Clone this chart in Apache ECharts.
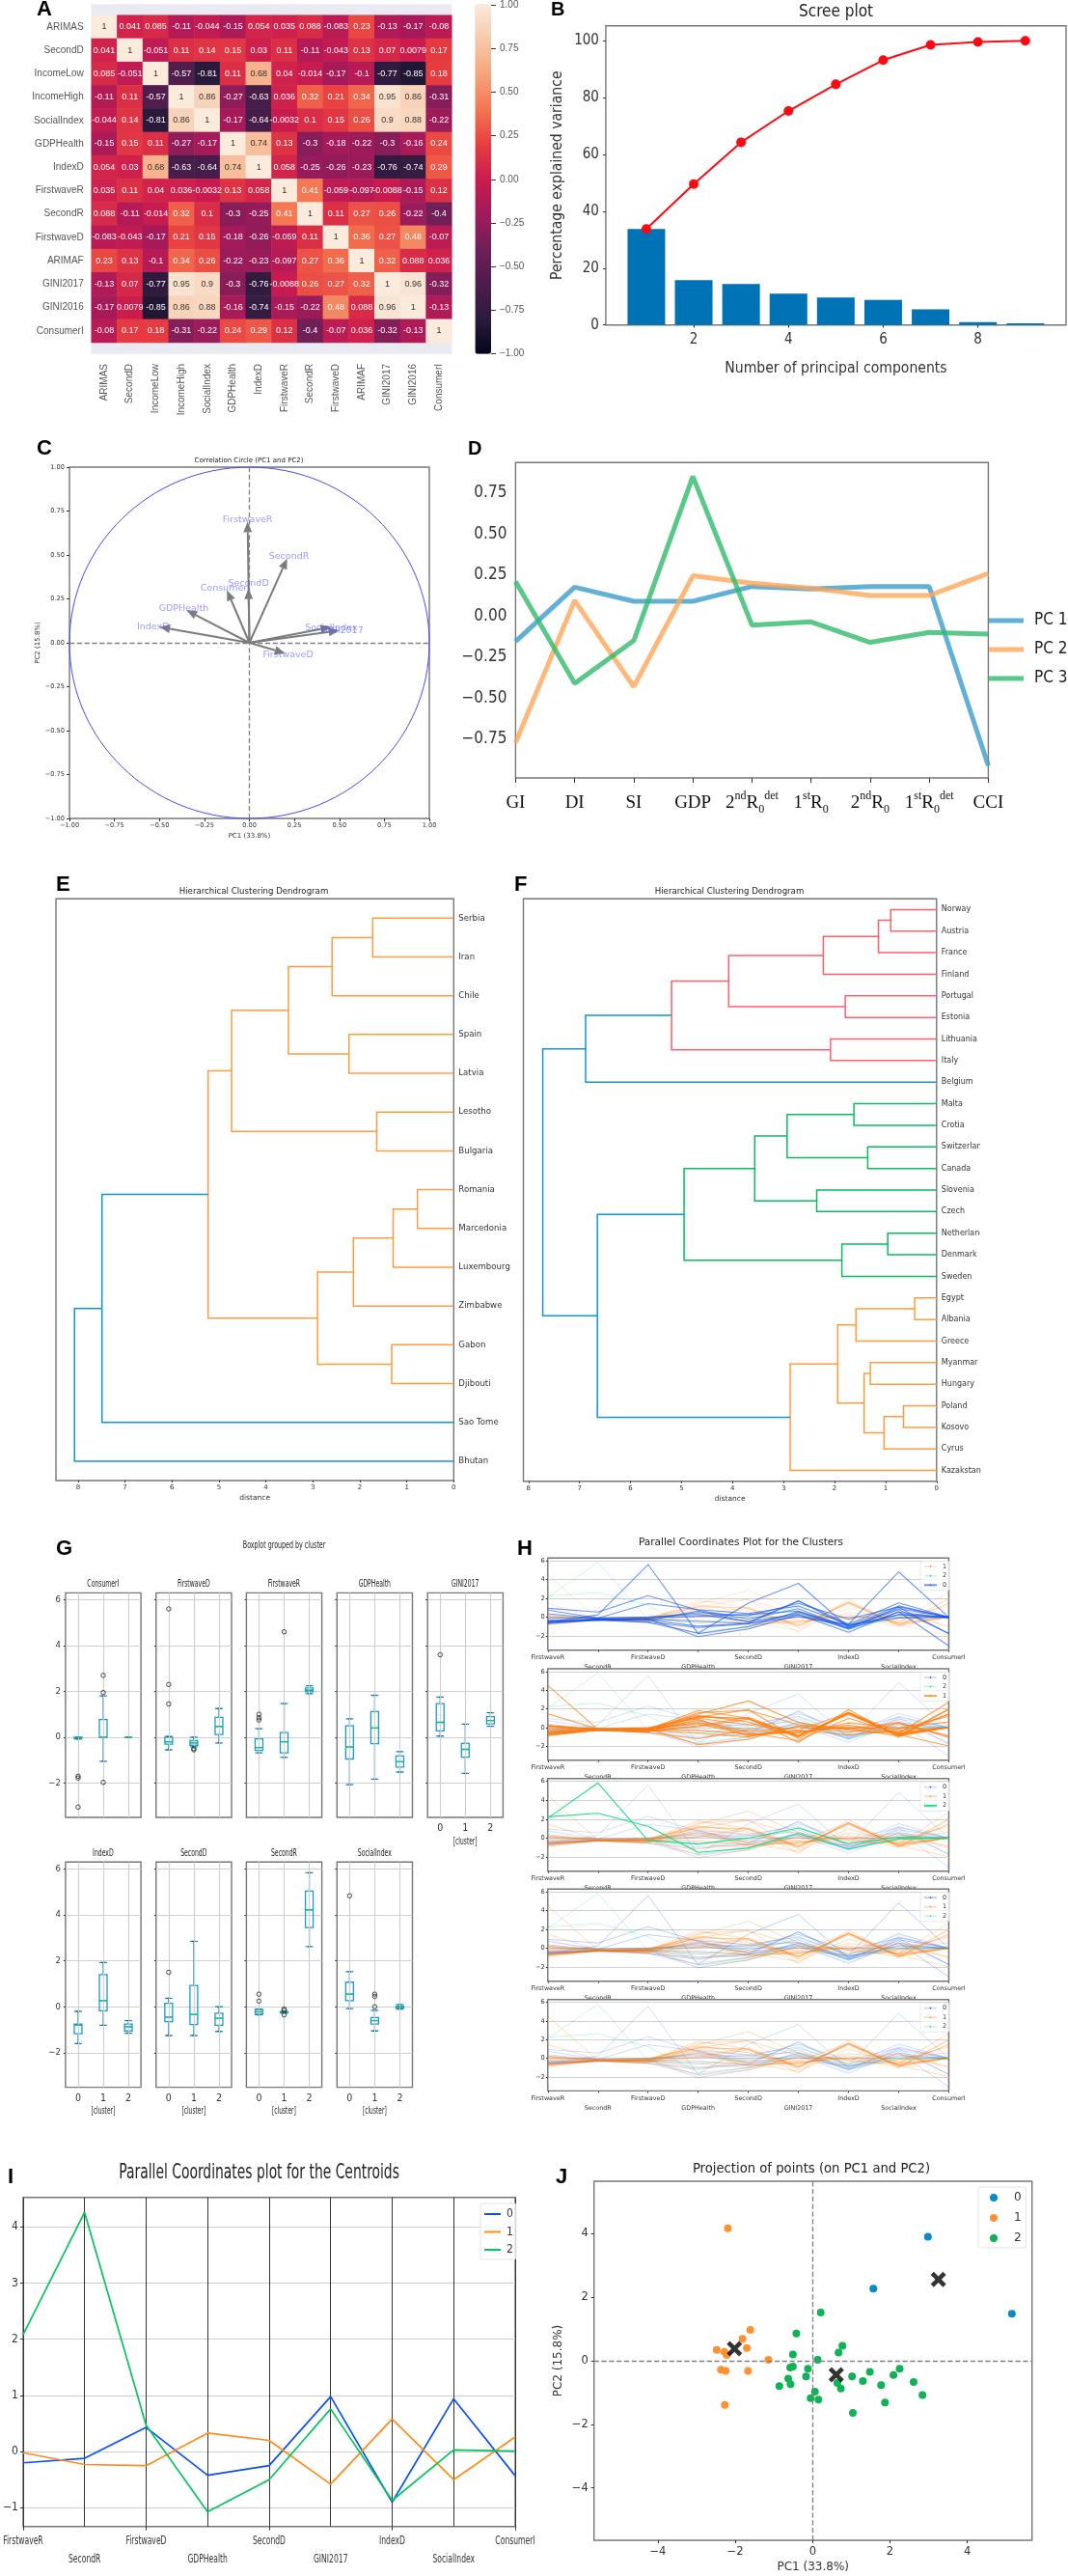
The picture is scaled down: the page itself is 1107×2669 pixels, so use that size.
<!DOCTYPE html>
<html><head><meta charset="utf-8">
<style>html,body{margin:0;padding:0;background:#fff}#c{width:1107px;height:2669px}</style>
<script src="https://cdn.jsdelivr.net/npm/echarts@6/dist/echarts.min.js"></script>
</head><body><div id="c"></div>
<script>
// ---------- A: correlation heat map
const heatLabels=["ARIMAS","SecondD","IncomeLow","IncomeHigh","SocialIndex","GDPHealth","IndexD","FirstwaveR","SecondR","FirstwaveD","ARIMAF","GINI2017","GINI2016","ConsumerI"];
const heatValues=[
[1,0.041,0.085,-0.11,-0.044,-0.15,0.054,0.035,0.088,-0.083,0.23,-0.13,-0.17,-0.08],
[0.041,1,-0.051,0.11,0.14,0.15,0.03,0.11,-0.11,-0.043,0.13,0.07,0.0079,0.17],
[0.085,-0.051,1,-0.57,-0.81,0.11,0.68,0.04,-0.014,-0.17,-0.1,-0.77,-0.85,0.18],
[-0.11,0.11,-0.57,1,0.86,-0.27,-0.63,0.036,0.32,0.21,0.34,0.95,0.86,-0.31],
[-0.044,0.14,-0.81,0.86,1,-0.17,-0.64,-0.0032,0.1,0.15,0.26,0.9,0.88,-0.22],
[-0.15,0.15,0.11,-0.27,-0.17,1,0.74,0.13,-0.3,-0.18,-0.22,-0.3,-0.16,0.24],
[0.054,0.03,0.68,-0.63,-0.64,0.74,1,0.058,-0.25,-0.26,-0.23,-0.76,-0.74,0.29],
[0.035,0.11,0.04,0.036,-0.0032,0.13,0.058,1,0.41,-0.059,-0.097,-0.0088,-0.15,0.12],
[0.088,-0.11,-0.014,0.32,0.1,-0.3,-0.25,0.41,1,0.11,0.27,0.26,-0.22,-0.4],
[-0.083,-0.043,-0.17,0.21,0.15,-0.18,-0.26,-0.059,0.11,1,0.36,0.27,0.48,-0.07],
[0.23,0.13,-0.1,0.34,0.26,-0.22,-0.23,-0.097,0.27,0.36,1,0.32,0.088,0.036],
[-0.13,0.07,-0.77,0.95,0.9,-0.3,-0.76,-0.0088,0.26,0.27,0.32,1,0.96,-0.32],
[-0.17,0.0079,-0.85,0.86,0.88,-0.16,-0.74,-0.15,-0.22,0.48,0.088,0.96,1,-0.13],
[-0.08,0.17,0.18,-0.31,-0.22,0.24,0.29,0.12,-0.4,-0.07,0.036,-0.32,-0.13,1]];
const colorbarTicks=[-1,-0.75,-0.5,-0.25,0,0.25,0.5,0.75,1];
// ---------- B: scree plot
const screeX=[1,2,3,4,5,6,7,8,9];
const screeBars=[33.8,15.8,14.4,11.0,9.7,8.8,5.5,1.0,0.6];
const screeCum=[33.8,49.6,64.3,75.3,84.7,93.2,98.6,99.6,100];
// ---------- C: correlation circle
const circleNames=["FirstwaveR","SecondR","SecondD","ConsumerI","GDPHealth","IndexD","SocialIndex","GINI2017","FirstwaveD"];
const circlePC1=[-0.01,0.21,-0.005,-0.125,-0.35,-0.5,0.455,0.5,0.2];
const circlePC2=[0.69,0.48,0.31,0.30,0.185,0.09,0.09,0.07,-0.06];
const circleLabelX=[-0.01,0.22,-0.005,-0.135,-0.365,-0.535,0.455,0.515,0.215];
const circleLabelY=[0.70,0.49,0.335,0.31,0.195,0.09,0.085,0.07,-0.07];
const circleTicks=[-1,-0.75,-0.5,-0.25,0,0.25,0.5,0.75,1];
// ---------- D: PCA loadings
const loadCats=["GI","DI","SI","GDP","2ndR0det","1stR0","2ndR0","1stR0det","CCI"];
const loadLabels=["{n|GI}","{n|DI}","{n|SI}","{n|GDP}","{n|2}{sup|nd}{n|R}{sub|0}{sup|det}","{n|1}{sup|st}{n|R}{sub|0}","{n|2}{sup|nd}{n|R}{sub|0}","{n|1}{sup|st}{n|R}{sub|0}{sup|det}","{n|CCI}"];
const pc1=[-0.155,0.176,0.09,0.09,0.18,0.165,0.18,0.18,-0.91];
const pc2=[-0.77,0.095,-0.43,0.245,0.2,0.17,0.125,0.125,0.26];
const pc3=[0.21,-0.41,-0.15,0.85,-0.055,-0.035,-0.16,-0.10,-0.11];
// ---------- E, F: dendrograms (child, child, distance, colour)
const leavesE=["Serbia","Iran","Chile","Spain","Latvia","Lesotho","Bulgaria","Romania","Marcedonia","Luxembourg","Zimbabwe","Gabon","Djibouti","Sao Tome","Bhutan"];
const mergesE=[[0,1,1.726,"O"],[15,2,2.59,"O"],[3,4,2.23,"O"],[16,17,3.52,"O"],[5,6,1.64,"O"],[18,19,4.73,"O"],[7,8,0.774,"O"],[21,9,1.288,"O"],[22,10,2.137,"O"],[11,12,1.32,"O"],[23,24,2.9,"O"],[20,25,5.23,"O"],[26,13,7.49,"B"],[27,14,8.075,"B"]];
const leavesF=["Norway","Austria","France","Finland","Portugal","Estonia","Lithuania","Italy","Belgium","Malta","Crotia","Switzerland","Canada","Slovenia","Czech","Netherland","Denmark","Sweden","Egypt","Albania","Greece","Myanmar","Hungary","Poland","Kosovo","Cyrus","Kazakstan"];
const mergesF=[[0,1,0.90,"R"],[27,2,1.14,"R"],[28,3,2.22,"R"],[4,5,1.79,"R"],[29,30,4.075,"R"],[6,7,2.08,"R"],[31,32,5.195,"R"],[33,8,6.88,"B"],[9,10,1.62,"G"],[11,12,1.35,"G"],[35,36,2.93,"G"],[13,14,2.35,"G"],[37,38,3.565,"G"],[15,16,0.957,"G"],[40,17,1.857,"G"],[39,41,4.95,"G"],[18,19,0.43,"O"],[43,20,1.58,"O"],[21,22,1.30,"O"],[23,24,0.65,"O"],[46,25,1.03,"O"],[45,47,1.42,"O"],[44,48,1.94,"O"],[49,26,2.87,"O"],[42,50,6.65,"B"],[34,51,7.72,"B"]];
// ---------- G: box plots [min,q1,median,q3,max] for clusters 0,1,2, outliers [cluster,value]
const boxConsumerI=[[-0.08,-0.05,0,0,0],[-1.05,0,0,0.77,1.8],[0,0,0,0,0]];
const outConsumerI=[[0,-1.7],[0,-1.78],[0,-3.05],[1,2.7],[1,1.95],[1,-1.97]];
const boxFirstwaveD=[[-0.55,-0.3,-0.2,0,0.03],[-0.42,-0.35,-0.25,-0.15,0],[-0.25,0.12,0.47,0.87,1.25]];
const outFirstwaveD=[[0,5.6],[0,2.3],[0,1.45],[1,-0.5],[1,-0.55]];
const boxFirstwaveR=[[-0.68,-0.58,-0.45,-0.07,0.37],[-0.88,-0.68,-0.2,0.2,1.47],[1.9,1.98,2.05,2.15,2.25]];
const outFirstwaveR=[[0,0.75],[0,0.85],[0,1.0],[1,4.6]];
const boxGDPHealth=[[-2.07,-0.95,-0.43,0.5,0.8],[-1.83,-0.28,0.4,1.12,1.83],[-1.52,-1.3,-1.07,-0.82,-0.63]];
const outGDPHealth=[];
const boxGINI2017=[[0.05,0.28,0.65,1.47,1.75],[-1.58,-0.87,-0.53,-0.27,0.57],[0.48,0.58,0.73,0.9,1.07]];
const outGINI2017=[[0,3.6]];
const boxIndexD=[[-1.6,-1.17,-0.8,-0.75,-0.2],[-0.8,-0.17,0.27,1.4,1.93],[-1.15,-1.05,-0.87,-0.75,-0.6]];
const outIndexD=[];
const boxSecondD=[[-1.25,-0.65,-0.45,0.15,0.37],[-1.25,-0.77,-0.33,0.93,2.85],[-1.07,-0.8,-0.5,-0.28,0]];
const outSecondD=[[0,1.5]];
const boxSecondR=[[-0.35,-0.32,-0.22,-0.12,-0.1],[-0.28,-0.27,-0.25,-0.22,-0.2],[2.62,3.45,4.22,5.03,5.83]];
const outSecondR=[[0,0.25],[0,0.55],[1,-0.15],[1,-0.1],[1,-0.35]];
const boxSocialIndex=[[-0.08,0.27,0.55,1.07,1.53],[-1.05,-0.75,-0.6,-0.47,-0.15],[-0.1,-0.05,0,0.03,0.1]];
const outSocialIndex=[[0,4.83],[1,0],[1,0.45],[1,0.55]];
const clusterCats=["0","1","2"];
// ---------- H, I: parallel coordinates
const parallelCats=["FirstwaveR","SecondR","FirstwaveD","GDPHealth","SecondD","GINI2017","IndexD","SocialIndex","ConsumerI"];
const linesCluster0=[
[-0.55,0.25,5.6,-1.75,-1.0,0.6,-0.9,0.3,0],[0.95,0.55,2.3,0.75,-0.2,0.9,-1.2,1.05,-1.75],[0.75,-0.1,1.45,0.8,0.4,1.2,-0.75,1.53,0],
[-0.3,-0.2,-0.2,-2.07,-1.25,0.28,-1.6,0.6,-3.05],[-0.68,-0.32,-0.55,-1.7,1.5,3.6,-1.1,0.8,-1.7],[-0.58,-0.22,-0.3,-0.95,-0.65,1.75,-0.75,4.83,0],
[0.37,-0.12,-0.1,0.5,0.15,1.47,-0.2,1.1,0],[-0.45,-0.25,-0.05,0.1,0.3,0.65,-1.3,0.55,-0.08],[-0.07,-0.1,0.03,0.3,-0.45,0.3,-1.17,0.27,0],
[-0.5,-0.35,-0.2,-0.43,-0.65,0.05,-0.8,-0.08,0],[-0.6,-0.2,-0.35,0.65,-0.5,1.7,-0.95,1.2,0],[-0.4,-0.28,-0.5,-1.1,-0.7,0.5,-1.05,0.9,0]];
const linesCluster1=[
[4.5,-0.2,-0.25,1.1,1.0,-0.9,1.55,-0.8,0],[1.47,-0.15,-0.3,1.45,2.85,0.57,-0.3,-0.6,2.7],[0.2,-0.25,-0.2,1.83,1.0,-1.58,1.93,-1.05,1.95],
[-0.88,-0.27,-0.5,1.2,0.93,-0.87,1.4,-0.75,-1.97],[-0.68,-0.25,-0.15,0.4,-0.77,-0.53,0.27,-0.6,0],[0.2,-0.22,-0.1,-1.83,-1.25,0.2,-0.17,0.55,-1.05],
[-0.2,-0.1,0,1.12,1.9,-1.2,1.6,-0.47,1.4],[-0.75,-0.28,-0.45,0.9,-0.9,-0.3,1.6,-0.9,0.05],[-0.6,-0.24,-0.35,0.2,1.1,-0.85,1.5,-0.7,0],
[0.15,-0.2,-0.2,-0.28,-0.7,-0.5,0.1,-0.15,1.2],[-0.45,-0.18,-0.12,1.3,0.6,-1.0,1.65,-0.85,0],[-0.8,-0.26,-0.3,-0.6,-1.0,0.1,-0.5,0.45,-0.9],
[-0.3,-0.23,-0.22,0.75,-0.4,-0.6,0.5,0,0.6],[0.05,-0.21,-0.08,1.0,0.3,-0.27,-0.8,-0.3,0],[-0.55,-0.25,-0.4,0.1,0.9,-0.95,1.55,-0.8,1.5],
[-0.65,-0.27,-0.55,-1.2,-0.2,-0.4,0,-0.5,0],[-0.7,-0.22,-0.28,1.6,1.85,0.3,-0.1,-0.9,2.0],[0.25,-0.2,-0.18,0.55,-0.55,-1.4,1.0,-0.65,0]];
const linesCluster2=[[2.1,5.83,-0.25,-0.63,0,1.07,-0.6,0.1,0],[2.25,2.62,1.25,-1.52,-1.07,0.48,-1.15,-0.1,0]];
const centroid0=[-0.2,-0.12,0.43,-0.42,-0.25,0.98,-0.9,0.94,-0.43];
const centroid1=[-0.02,-0.23,-0.25,0.33,0.2,-0.58,0.58,-0.5,0.26];
const centroid2=[2.08,4.26,0.47,-1.07,-0.5,0.76,-0.87,0.03,0.01];
// ---------- J: projection
const points0=[[2.98,3.9],[1.57,2.27],[5.15,1.48]];
const points1=[[-2.19,4.17],[-1.61,0.97],[-1.81,0.69],[-1.7,0.4],[-2.48,0.34],[-2.28,0.28],[-2.22,0.18],[-1.14,0.03],[-2.37,-0.28],[-2.25,-0.32],[-1.67,-0.32],[-2.27,-1.39]];
const points2=[[0.21,1.52],[-0.42,0.86],[0.77,0.47],[0.67,0.26],[0.13,0.03],[-0.51,0.2],[-0.51,-0.18],[-0.58,-0.21],[-0.12,-0.25],[-0.17,-0.49],[-0.63,-0.56],[-0.57,-0.74],[-0.86,-0.8],[0.06,-0.97],[-0.05,-1.18],[0.15,-1.22],[0.64,-0.7],[0.73,-0.87],[1.02,-0.49],[1.3,-0.64],[1.48,-0.35],[1.77,-0.77],[2.09,-0.45],[2.25,-0.25],[2.61,-0.67],[2.84,-1.08],[1.87,-1.31],[1.04,-1.64]];
const centres=[[3.25,2.56],[-2.02,0.38],[0.61,-0.44]];

// ---------- helpers
const SANS="'Liberation Sans',Arial,sans-serif", DJ="'DejaVu Sans',sans-serif", COND="'DejaVu Sans Condensed','DejaVu Sans',sans-serif", SERIF="'Liberation Serif',serif";
const grid=[],xAxis=[],yAxis=[],series=[],title=[],legend=[],graphic=[];
const FRAME="#777",INK="#333";
const minus=v=>String(v).replace('-','\u2212');
function addGrid(l,t,r,b,extra){grid.push(Object.assign({left:l,top:t,width:r-l,height:b-t,show:true,borderColor:FRAME,borderWidth:1.4,backgroundColor:'#fff',containLabel:false},extra||{}));return grid.length-1;}
function text(s,x,y,font,size,o){o=o||{};title.push({text:s,left:x,top:y,padding:0,textAlign:o.align||'center',textVerticalAlign:'middle',textStyle:{fontFamily:font,fontSize:size,fontWeight:o.weight||'normal',color:o.color||'#222'}});}
// squeezed text: the reference stretches some panels vertically, so their glyphs are narrow
function squeezed(s,x,y,size,scaleX){graphic.push({type:'text',silent:true,x,y,scaleX,z:50,style:{text:s,fill:'#222',font:size+"px 'DejaVu Sans Condensed','DejaVu Sans'",align:'center',verticalAlign:'middle',textAlign:'center',textVerticalAlign:'middle'}});}
function valueAxis(gi,min,max,ticks,o){o=o||{};return {type:'value',gridIndex:gi,min,max,inverse:!!o.inverse,position:o.position,z:o.z,
 name:o.name,nameLocation:'middle',nameGap:o.nameGap,nameTextStyle:{fontFamily:o.font,fontSize:o.nameSize||o.size,color:INK},
 axisLine:{show:false,onZero:false},
 axisTick:{show:o.tick!==false,customValues:ticks,length:o.tickLen||3,lineStyle:{color:INK}},
 axisLabel:{show:o.label!==false,customValues:ticks,fontFamily:o.font,fontSize:o.size,color:o.color||INK,margin:o.margin||5,formatter:o.fmt||minus},
 splitLine:{show:!!o.split,lineStyle:{color:o.split||'#ccc',width:o.splitW||1.2}}};}
function markers(gi,lines){return {type:'line',xAxisIndex:gi,yAxisIndex:gi,data:[],silent:true,markLine:{silent:true,symbol:'none',label:{show:false},animation:false,lineStyle:{color:'#808080',type:'dashed',width:1.3},data:lines}};}

// ---------- A
text('A',38,10,SANS,22,{align:'left',weight:'bold',color:'#000'});
const gBand=addGrid(94.7,4.3,468.3,366.7,{backgroundColor:'#eaeaf2',borderWidth:0});
xAxis.push({type:'value',gridIndex:gBand,show:false,min:0,max:1});yAxis.push({type:'value',gridIndex:gBand,show:false,min:0,max:1});
const gHeat=addGrid(94.7,15.7,468.3,355,{backgroundColor:'transparent',borderWidth:0});
xAxis.push({type:'category',gridIndex:gHeat,data:heatLabels,axisLine:{show:false,onZero:false},axisTick:{show:false},splitLine:{show:false},
 axisLabel:{interval:0,rotate:90,margin:22,fontFamily:SANS,fontSize:10,color:'#555'}});
yAxis.push({type:'category',gridIndex:gHeat,data:heatLabels,inverse:true,axisLine:{show:false,onZero:false},axisTick:{show:false},splitLine:{show:false},
 axisLabel:{interval:0,margin:8,fontFamily:SANS,fontSize:10,color:'#555'}});
const heatData=[];
heatValues.forEach((row,r)=>row.forEach((v,c)=>heatData.push({value:[c,r,v],label:{color:v>=0.6?'#333':'#fff'}})));
series.push({type:'heatmap',xAxisIndex:gHeat,yAxisIndex:gHeat,data:heatData,progressive:0,
 label:{show:true,fontFamily:SANS,fontSize:9,formatter:p=>String(p.value[2])},itemStyle:{borderWidth:0}});
const heatSeriesIndex=series.length-1;
const gBar=addGrid(492.4,4.3,509,366.7,{backgroundColor:'transparent',borderWidth:0});
xAxis.push({type:'value',gridIndex:gBar,show:false,min:0,max:1});
yAxis.push(valueAxis(gBar,-1,1,colorbarTicks,{position:'right',font:SANS,size:10,color:'#555',tickLen:5,margin:9,fmt:v=>minus(v.toFixed(2))}));

// ---------- B
text('B',571,10,SANS,20,{align:'left',weight:'bold',color:'#000'});
text('Scree plot',866.6,13,COND,17);
const gB=addGrid(627.9,26.7,1105,336.7);
xAxis.push(valueAxis(gB,0.144,9.86,[2,4,6,8],{font:COND,size:15,margin:8,name:'Number of principal components',nameGap:37,nameSize:15.6}));
yAxis.push(valueAxis(gB,0,105.3,[0,20,40,60,80,100],{font:COND,size:15,margin:7,name:'Percentage explained variance',nameGap:42,nameSize:15.6}));
series.push({type:'bar',xAxisIndex:gB,yAxisIndex:gB,barWidth:39,itemStyle:{color:'#0072b6'},data:screeX.map((x,i)=>[x,screeBars[i]])});
series.push({type:'line',xAxisIndex:gB,yAxisIndex:gB,symbol:'circle',symbolSize:10,itemStyle:{color:'#fb0a14'},lineStyle:{color:'#fb0a14',width:2},data:screeX.map((x,i)=>[x,screeCum[i]])});

// ---------- C
text('C',38,465,SANS,22,{align:'left',weight:'bold',color:'#000'});
text('Correlation Circle (PC1 and PC2)',258,477,DJ,7);
const gC=addGrid(72,484,445,848);
const fmt2=v=>minus(v.toFixed(2));
xAxis.push(valueAxis(gC,-1,1,circleTicks,{font:DJ,size:6.6,margin:4,fmt:fmt2,name:'PC1 (33.8%)',nameGap:15,nameSize:7}));
yAxis.push(valueAxis(gC,-1,1,circleTicks,{font:DJ,size:6.6,margin:5,fmt:fmt2,name:'PC2 (15.8%)',nameGap:27,nameSize:7}));
series.push(markers(gC,[{xAxis:0},{yAxis:0}]));
series.push({type:'custom',xAxisIndex:gC,yAxisIndex:gC,data:[[0,0,1]],silent:true,clip:false,renderItem:(p,api)=>{
 const c=api.coord([api.value(0),api.value(1)]),s=api.size([api.value(2),api.value(2)]);
 return {type:'ellipse',shape:{cx:c[0],cy:c[1],rx:s[0],ry:s[1]},style:{fill:'none',stroke:'#4a4af5',lineWidth:1}};}});
series.push({type:'custom',xAxisIndex:gC,yAxisIndex:gC,silent:true,
 data:circleNames.map((n,i)=>[circlePC1[i],circlePC2[i],circleLabelX[i],circleLabelY[i]]),
 renderItem:(p,api)=>{
 const o=api.coord([0,0]),t=api.coord([api.value(0),api.value(1)]),l=api.coord([api.value(2),api.value(3)]);
 const a=Math.atan2(t[1]-o[1],t[0]-o[0]),L=11,W=4.5;
 const b=[t[0]-L*Math.cos(a),t[1]-L*Math.sin(a)],nx=-Math.sin(a),ny=Math.cos(a);
 return {type:'group',children:[
  {type:'line',shape:{x1:o[0],y1:o[1],x2:b[0],y2:b[1]},style:{stroke:'#7c7c7c',lineWidth:2}},
  {type:'polygon',shape:{points:[t,[b[0]+W*nx,b[1]+W*ny],[b[0]-W*nx,b[1]-W*ny]]},style:{fill:'#7c7c7c'}},
  {type:'text',style:{text:circleNames[p.dataIndex],x:l[0],y:l[1],align:'center',verticalAlign:'middle',fill:'rgba(90,90,255,0.62)',font:"9.5px 'DejaVu Sans'"},z2:10}]};}});

// ---------- D
text('D',485,465,SANS,20,{align:'left',weight:'bold',color:'#000'});
const gD=addGrid(534.4,479.3,1024.4,806);
xAxis.push({type:'category',gridIndex:gD,data:loadCats,boundaryGap:false,axisLine:{show:false,onZero:false},splitLine:{show:false},
 axisTick:{alignWithLabel:true,length:5,lineStyle:{color:INK}},
 axisLabel:{interval:0,margin:13,color:'#111',formatter:(v,i)=>loadLabels[i],
 rich:{n:{fontFamily:SERIF,fontSize:19,lineHeight:26,color:'#111'},sup:{fontFamily:SERIF,fontSize:12,verticalAlign:'top',color:'#111',lineHeight:14},sub:{fontFamily:SERIF,fontSize:12,verticalAlign:'bottom',color:'#111',lineHeight:14}}}});
yAxis.push(valueAxis(gD,-0.985,0.934,[-0.75,-0.5,-0.25,0,0.25,0.5,0.75],{font:COND,size:17,fmt:fmt2,tick:false,margin:9}));
[['PC 1',pc1,'#3b9ccb'],['PC 2',pc2,'#ffa659'],['PC 3',pc3,'#2fba6a']].forEach(([n,d,c])=>series.push({type:'line',name:n,xAxisIndex:gD,yAxisIndex:gD,data:d,symbol:'none',lineStyle:{color:c,width:5,opacity:.8},itemStyle:{color:c,opacity:.8}}));
legend.push({data:['PC 1','PC 2','PC 3'],orient:'vertical',left:1025,top:634,padding:0,itemWidth:36,itemHeight:5,itemGap:12,selectedMode:false,icon:'rect',textStyle:{fontFamily:COND,fontSize:17,color:'#222',padding:[0,0,0,6],lineHeight:18,height:18}});

// ---------- E, F
const DCOL={O:'#ff9d3d',B:'#0f97cf',R:'#ff5f6d',G:'#08bd5e'};
function dendrogram(gi,leaves,merges,maxD,labSize,labMargin){
 const nodes=leaves.map((_,i)=>({y:5+10*i,d:0}));
 const rows=merges.map(m=>{const a=nodes[m[0]],b=nodes[m[1]];nodes.push({y:(a.y+b.y)/2,d:m[2]});return [a.d,a.y,m[2],b.d,b.y];});
 xAxis.push(valueAxis(gi,0,maxD,[0,1,2,3,4,5,6,7,8],{inverse:true,font:DJ,size:7,margin:4,tickLen:2,name:'distance',nameGap:14,nameSize:7.5}));
 yAxis.push(valueAxis(gi,0,leaves.length*10,leaves.map((_,i)=>5+10*i),{inverse:true,position:'right',font:DJ,size:labSize,tick:false,margin:labMargin,fmt:v=>leaves[(v-5)/10]}));
 series.push({type:'custom',xAxisIndex:gi,yAxisIndex:gi,silent:true,data:rows,renderItem:(p,api)=>{
  const P=[api.coord([api.value(0),api.value(1)]),api.coord([api.value(2),api.value(1)]),api.coord([api.value(2),api.value(4)]),api.coord([api.value(3),api.value(4)])];
  return {type:'polyline',shape:{points:P},style:{fill:'none',stroke:DCOL[merges[p.dataIndex][3]],lineWidth:1.5}};}});
}
text('E',58,917,SANS,22,{align:'left',weight:'bold',color:'#000'});
text('Hierarchical Clustering Dendrogram',263,923.5,DJ,8.6);
dendrogram(addGrid(58,931.2,470.3,1534),leavesE,mergesE,8.47,8.6,5);
text('F',533,917,SANS,22,{align:'left',weight:'bold',color:'#000'});
text('Hierarchical Clustering Dendrogram',756,923.5,DJ,8.6);
dendrogram(addGrid(542.5,931.2,970.8,1534.8),leavesF,mergesF,8.1,8,5);

// ---------- G
text('G',58,1605,SANS,22,{align:'left',weight:'bold',color:'#000'});
text('H',536,1605,SANS,22,{align:'left',weight:'bold',color:'#000'});
squeezed('Boxplot grouped by cluster',294.6,1601,11,.64);
const boxPanels=[
 ['ConsumerI',boxConsumerI,outConsumerI,67.9,0],['FirstwaveD',boxFirstwaveD,outFirstwaveD,161.8,0],['FirstwaveR',boxFirstwaveR,outFirstwaveR,255.4,0],['GDPHealth',boxGDPHealth,outGDPHealth,349.3,0],['GINI2017',boxGINI2017,outGINI2017,443.2,0],
 ['IndexD',boxIndexD,outIndexD,67.9,1],['SecondD',boxSecondD,outSecondD,161.8,1],['SecondR',boxSecondR,outSecondR,255.4,1],['SocialIndex',boxSocialIndex,outSocialIndex,349.3,1]];
boxPanels.forEach(([n,box,out,left,row],idx)=>{
 const top=row?1929.2:1650.4,bot=row?2162.6:1883;
 const gi=addGrid(left,top,left+78.2,bot);
 const showX=row===1||n==='GINI2017';
 squeezed(n,left+39,top-9,11,.62);
 if(showX) squeezed('[cluster]',left+39,bot+25,10,.66);
 xAxis.push({type:'category',gridIndex:gi,data:clusterCats,axisLine:{show:false,onZero:false},splitLine:{show:false},
  axisTick:{alignWithLabel:true,length:3,lineStyle:{color:INK}},
  axisLabel:{show:showX,interval:0,fontFamily:COND,fontSize:10.5,color:INK,margin:6}});
 yAxis.push(valueAxis(gi,-3.5,6.3,[-2,0,2,4,6],{font:COND,size:9.5,label:(idx===0||idx===5),tickLen:2,split:'#cfcfcf',margin:5}));
 series.push({type:'scatter',xAxisIndex:gi,yAxisIndex:gi,silent:true,symbolSize:0,data:[],markLine:{silent:true,symbol:'none',label:{show:false},animation:false,lineStyle:{color:'#cfcfcf',type:'solid',width:1.2},data:[{xAxis:0},{xAxis:1},{xAxis:2}]}});
 series.push({type:'boxplot',xAxisIndex:gi,yAxisIndex:gi,silent:true,boxWidth:[8,8],data:box,itemStyle:{color:'rgba(255,255,255,0)',borderColor:'#1a9bd0',borderWidth:1.3},z:3});
 series.push({type:'scatter',xAxisIndex:gi,yAxisIndex:gi,silent:true,symbol:'rect',symbolSize:[3.5,1],itemStyle:{color:'#222'},z:4,data:box.flatMap((b,i)=>[[i,b[0]],[i,b[4]]])});
 series.push({type:'scatter',xAxisIndex:gi,yAxisIndex:gi,silent:true,symbol:'rect',symbolSize:[8,1.3],itemStyle:{color:'#10bf5f'},z:5,data:box.map((b,i)=>[i,b[2]])});
 series.push({type:'scatter',xAxisIndex:gi,yAxisIndex:gi,silent:true,symbol:'circle',symbolSize:4.5,itemStyle:{color:'rgba(255,255,255,0)',borderColor:'#222',borderWidth:1},z:5,data:out});
});

// ---------- H
text('Parallel Coordinates Plot for the Clusters',768,1598.6,DJ,10.5);
const C0='#0a52ee',C1='#ff7d0c',C2='#0cd97a';
const hPanels=[
 {top:1614.2,bot:1709.7,order:['1','2','0'],style:{0:[.6,1.1],1:[.18,1],2:[.22,1]}},
 {top:1729,bot:1823.8,order:['0','2','1'],style:{0:[.18,1],1:[.72,1.1],2:[.22,1]}},
 {top:1842.7,bot:1938.7,order:['0','1','2'],style:{0:[.18,1],1:[.28,1],2:[.9,1.1]}},
 {top:1957.2,bot:2052.7,order:['0','1','2'],style:{0:[.28,1],1:[.28,1],2:[.22,1]}},
 {top:2071.7,bot:2166.4,order:['0','1','2'],style:{0:[.2,1],1:[.28,1],2:[.22,1]}}];
const hLines={0:[linesCluster0,C0],1:[linesCluster1,C1],2:[linesCluster2,C2]};
const stagger=(v,i)=>i%2?'\n'+v:v;
hPanels.forEach((hp,pi)=>{
 const gi=addGrid(567.8,hp.top,983.4,hp.bot);
 xAxis.push({type:'category',gridIndex:gi,data:parallelCats,boundaryGap:false,z:-1,axisLine:{show:false,onZero:false},
  axisTick:{alignWithLabel:true,length:2,lineStyle:{color:INK}},splitLine:{show:true,interval:0,lineStyle:{color:'#3a3a3a',width:1.2}},
  axisLabel:{interval:0,fontFamily:DJ,fontSize:6.4,color:INK,margin:3,lineHeight:10,formatter:stagger,hideOverlap:false}});
 yAxis.push(valueAxis(gi,-3.5,6.3,[-2,0,2,4,6],{font:DJ,size:6.6,tickLen:2,split:'#d0d0d0',margin:3}));
 hp.order.forEach(c=>{
  const [rows,col]=hLines[c],st=hp.style[c];
  rows.forEach(r=>series.push({type:'line',name:'H'+pi+'|'+c,xAxisIndex:gi,yAxisIndex:gi,silent:true,symbol:'none',data:r,z:3,
   lineStyle:{color:col,width:st[1],opacity:st[0]},itemStyle:{color:col}}));
 });
 legend.push({data:hp.order.map(c=>'H'+pi+'|'+c),formatter:n=>n.split('|')[1],orient:'vertical',left:954,top:hp.top+3.4,padding:[2,3,2,3],itemWidth:13,itemHeight:2,itemGap:2.6,
  selectedMode:false,align:'left',backgroundColor:'rgba(255,255,255,0.75)',borderColor:'#e3e3e3',borderWidth:.8,borderRadius:2,textStyle:{fontFamily:DJ,fontSize:6.5,color:INK,padding:[0,0,0,1]}});
});

// ---------- I
text('I',8,2256,SANS,22,{align:'left',weight:'bold',color:'#000'});
squeezed('Parallel Coordinates plot for the Centroids',268.6,2251.7,21,.735);
const gI=addGrid(21,2276.7,534,2617.7);
const iMin=-1.333,iMax=4.526;
xAxis.push({type:'category',gridIndex:gI,data:parallelCats,boundaryGap:false,axisLine:{show:false,onZero:false},
 axisTick:{alignWithLabel:true,length:4,lineStyle:{color:INK}},splitLine:{show:true,interval:0,lineStyle:{color:'#333',width:1}},
 axisLabel:{show:false}});
yAxis.push(valueAxis(gI,iMin,iMax,[-1,0,1,2,3,4],{font:COND,size:12,split:'#cdcdcd',margin:5}));
[['I|0',centroid0,'#0a52ee'],['I|1',centroid1,'#ff8c1a'],['I|2',centroid2,'#08c45f']].forEach(([n,d,c])=>series.push({type:'line',name:n,xAxisIndex:gI,yAxisIndex:gI,silent:true,symbol:'none',data:d,z:3,lineStyle:{color:c,width:1.7},itemStyle:{color:c}}));
series.push({type:'custom',xAxisIndex:gI,yAxisIndex:gI,silent:true,clip:false,data:parallelCats.map((n,i)=>[i,iMin]),renderItem:(p,api)=>{
 const c=api.coord([api.value(0),api.value(1)]),i=p.dataIndex;
 return {type:'text',x:c[0],y:c[1]+(i%2?34.5:15),scaleX:.68,style:{text:parallelCats[i],x:0,y:0,align:'center',verticalAlign:'middle',fill:INK,font:"12.5px 'DejaVu Sans Condensed','DejaVu Sans'"}};}});
legend.push({data:['I|0','I|1','I|2'],formatter:n=>n.split('|')[1],orient:'vertical',left:498,top:2283,padding:[4,3,3,3],itemWidth:17,itemHeight:2,itemGap:4.5,selectedMode:false,backgroundColor:'rgba(255,255,255,0.8)',borderColor:'#e3e3e3',borderWidth:1,borderRadius:2,textStyle:{fontFamily:COND,fontSize:12,color:INK,padding:[0,0,0,1],lineHeight:14}});

// ---------- J
text('J',576,2256,SANS,22,{align:'left',weight:'bold',color:'#000'});
text('Projection of points (on PC1 and PC2)',841,2247.7,DJ,13.2);
const gJ=addGrid(615.7,2260,1069.7,2632);
xAxis.push(valueAxis(gJ,-5.65,5.67,[-4,-2,0,2,4],{font:DJ,size:11.5,margin:6,name:'PC1 (33.8%)',nameGap:22,nameSize:12}));
yAxis.push(valueAxis(gJ,-5.65,5.65,[-4,-2,0,2,4],{font:DJ,size:11.5,margin:6,name:'PC2 (15.8%)',nameGap:31,nameSize:12}));
series.push(markers(gJ,[{xAxis:0},{yAxis:0}]));
[['J|0',points0,'#0a8bc6'],['J|1',points1,'#ff9130'],['J|2',points2,'#0fb255']].forEach(([n,d,c])=>series.push({type:'scatter',name:n,xAxisIndex:gJ,yAxisIndex:gJ,silent:true,symbolSize:8,data:d,itemStyle:{color:c,opacity:1},z:3}));
series.push({type:'scatter',xAxisIndex:gJ,yAxisIndex:gJ,silent:true,symbol:'path://M4,0 L10,6 L16,0 L20,4 L14,10 L20,16 L16,20 L10,14 L4,20 L0,16 L6,10 L0,4 Z',symbolSize:16,data:centres,itemStyle:{color:'#000'},z:5});
legend.push({data:['J|0','J|1','J|2'],formatter:n=>n.split('|')[1],orient:'vertical',left:1014,top:2266,padding:[5,5,4,12],itemWidth:8,itemHeight:8,itemGap:9,icon:'circle',selectedMode:false,backgroundColor:'rgba(255,255,255,0.8)',borderColor:'#e3e3e3',borderWidth:1,borderRadius:2,textStyle:{fontFamily:DJ,fontSize:12,color:INK,padding:[0,0,0,12]}});

// ---------- chart
graphic.push({type:'rect',silent:true,z:200,shape:{x:1016,y:1080,width:40,height:240},style:{fill:'#fff'}});
const chart=echarts.init(document.getElementById('c'));
chart.setOption({animation:false,backgroundColor:'#fff',title,grid,xAxis,yAxis,series,legend,graphic,
 visualMap:[{type:'continuous',seriesIndex:heatSeriesIndex,min:-1,max:1,calculable:false,left:492.4,top:4.3,padding:0,itemWidth:16.6,itemHeight:362.4,text:['',''],hoverLink:false,realtime:false,showLabel:false,
  inRange:{color:['#03051a','#2b1b3d','#4c1d4b','#701f57','#a11a5b','#cb1b4f','#e83f3f','#f37651','#f6a47b','#f7c9aa','#faebdd']}}]
});
</script></body></html>
